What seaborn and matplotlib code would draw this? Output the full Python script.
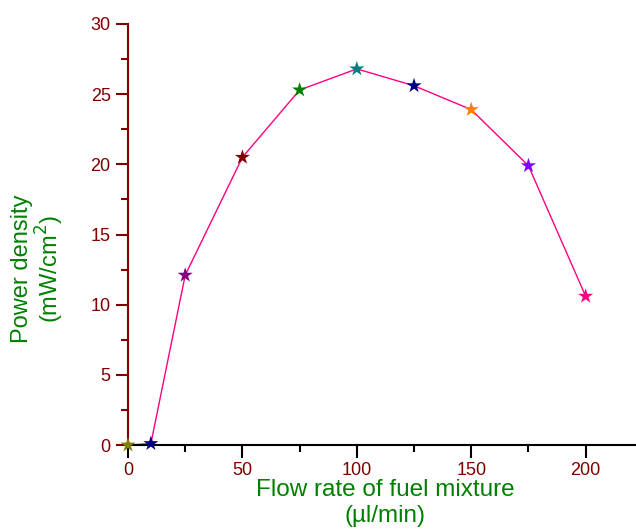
import pandas as pd
import matplotlib
matplotlib.use("Agg")
import matplotlib.pyplot as plt
import seaborn as sns
from matplotlib.ticker import MultipleLocator

# Data
flow_rate = [0, 10, 25, 50, 75, 100, 125, 150, 175, 200]
power_density = [0.0, 0.1, 12.1, 20.5, 25.3, 26.8, 25.6, 23.9, 19.9, 10.6]
point_colors = ["#808000", "#000080", "#800080", "#800000", "#008000",
                "#008080", "#000080", "#FF8000", "#8000FF", "#FF0080"]

df = pd.DataFrame({"flow": flow_rate, "power": power_density,
                   "idx": [str(i) for i in range(len(flow_rate))]})

sns.set_style("white")
plt.rcParams['font.family'] = ['Liberation Sans', 'DejaVu Sans']

fig = plt.figure(figsize=(6.36, 5.32), dpi=100)
ax = fig.add_axes([128 / 636, 1 - 445 / 532, 1 - 128 / 636, (445 - 24) / 532])

sns.lineplot(data=df, x="flow", y="power", color="#FF0080", linewidth=1.0,
             ax=ax, clip_on=False)
sns.scatterplot(data=df, x="flow", y="power", hue="idx",
                palette=point_colors, marker="*", s=130, linewidth=0,
                legend=False, ax=ax, clip_on=False, zorder=3)

ax.set_xlim(0, 222)
ax.set_ylim(0, 30)
ax.xaxis.set_major_locator(MultipleLocator(50))
ax.xaxis.set_minor_locator(MultipleLocator(25))
ax.yaxis.set_major_locator(MultipleLocator(5))
ax.yaxis.set_minor_locator(MultipleLocator(2.5))

dark_red = "#800000"
for s in ["top", "right"]:
    ax.spines[s].set_visible(False)
ax.spines["left"].set_color(dark_red)
ax.spines["left"].set_linewidth(1.5)
ax.spines["bottom"].set_color("black")
ax.spines["bottom"].set_linewidth(1.5)

ax.tick_params(axis="x", which="major", direction="out", length=9, width=1.5,
               colors="black", labelcolor=dark_red, labelsize=13, bottom=True)
ax.tick_params(axis="x", which="minor", direction="out", length=5, width=1.5,
               colors="black", bottom=True)
ax.tick_params(axis="y", which="major", direction="out", length=9, width=1.5,
               colors=dark_red, labelcolor=dark_red, labelsize=13, left=True)
ax.tick_params(axis="y", which="minor", direction="out", length=5, width=1.5,
               colors=dark_red, left=True)

ax.set_xlabel("Flow rate of fuel mixture\n(\u00b5l/min)", color="#008000",
              fontsize=17.5, linespacing=1.2, ha="center", va="center")
ax.set_ylabel("Power density\n(mW/cm$^2$)", color="#008000",
              fontsize=17, linespacing=1.05, ha="center", va="center")
ax.xaxis.set_label_coords(0.506, -0.138)
ax.yaxis.set_label_coords(-0.176, 0.418)

plt.savefig("out.png", dpi=100)
